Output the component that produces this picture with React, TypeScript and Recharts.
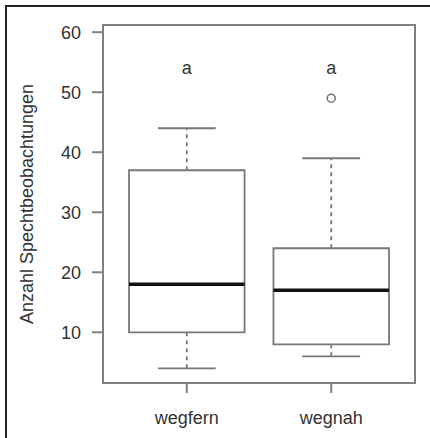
import React from 'react';
import {
  ComposedChart,
  Scatter,
  XAxis,
  YAxis,
  ReferenceArea,
  ReferenceLine,
} from 'recharts';

// groups and boxplot stats
const groups = ['wegfern', 'wegnah'];
const positions = [1, 2];
const mins = [4, 6];
const q1s = [10, 8];
const medians = [18, 17];
const q3s = [37, 24];
const maxs = [44, 39];
const outliers = [{ x: 2, y: 49 }];
const letters = ['a', 'a'];
const letterY = 54;
const yTicks = [10, 20, 30, 40, 50, 60];

const X_DOMAIN: [number, number] = [0.42, 2.58];
const Y_DOMAIN: [number, number] = [1.55, 61.2];
const FONT = '"Liberation Sans", Arial, Helvetica, sans-serif';
const TEXT = '#333';
const GREY = '#808080';

const letterData = positions.map((p, i) => ({ x: p, y: letterY, t: letters[i] }));

const LetterShape = (props: any) => (
  <text
    x={props.cx}
    y={props.cy}
    textAnchor="middle"
    dominantBaseline="central"
    fontSize={18}
    fontFamily={FONT}
    fill={TEXT}
  >
    {props.payload?.t}
  </text>
);

const OutlierShape = (props: any) => (
  <circle cx={props.cx} cy={props.cy} r={4} fill="#fff" stroke="#777" strokeWidth={1.6} />
);

const YTitle = (props: any) => {
  const vb = props.viewBox || {};
  const cy = (vb.y ?? 0) + (vb.height ?? 0) / 2;
  return (
    <text
      x={27}
      y={cy}
      transform={`rotate(-90, 27, ${cy})`}
      textAnchor="middle"
      dominantBaseline="central"
      fontSize={18}
      fontFamily={FONT}
      fill={TEXT}
    >
      Anzahl Spechtbeobachtungen
    </text>
  );
};

export default function App() {
  return (
    <div style={{ position: 'absolute', left: 0, top: 0, width: 430, height: 438, background: '#fff' }}>
      <ComposedChart width={430} height={438} margin={{ top: 25, right: 15, bottom: 0, left: 0 }}>
        <XAxis
          type="number"
          dataKey="x"
          domain={X_DOMAIN}
          allowDataOverflow
          ticks={positions}
          tickFormatter={(v: number) => groups[v - 1] ?? ''}
          height={55}
          axisLine={false}
          tickSize={10}
          tickMargin={18}
          tickLine={{ stroke: GREY, strokeWidth: 2 }}
          tick={{ fontSize: 18, fontFamily: FONT, fill: TEXT }}
        />
        <YAxis
          type="number"
          dataKey="y"
          domain={Y_DOMAIN}
          allowDataOverflow
          ticks={yTicks}
          width={103}
          axisLine={false}
          tickSize={11}
          tickMargin={11}
          tickLine={{ stroke: GREY, strokeWidth: 2 }}
          tick={{ fontSize: 18, fontFamily: FONT, fill: TEXT }}
          label={<YTitle />}
        />

        {/* plot frame */}
        <ReferenceArea
          x1={X_DOMAIN[0]}
          x2={X_DOMAIN[1]}
          y1={Y_DOMAIN[0]}
          y2={Y_DOMAIN[1]}
          fill="none"
          fillOpacity={0}
          stroke={GREY}
          strokeWidth={2}
          strokeOpacity={1}
        />

        {positions.map((p, i) => (
          <ReferenceArea
            key={`box-${i}`}
            x1={p - 0.4}
            x2={p + 0.4}
            y1={q1s[i]}
            y2={q3s[i]}
            fill="none"
            fillOpacity={0}
            stroke="#777"
            strokeWidth={1.8}
            strokeOpacity={1}
          />
        ))}

        {positions.map((p, i) => (
          <ReferenceLine
            key={`wu-${i}`}
            segment={[{ x: p, y: q3s[i] }, { x: p, y: maxs[i] }]}
            stroke="#777"
            strokeWidth={1.8}
            strokeDasharray="4 4"
          />
        ))}
        {positions.map((p, i) => (
          <ReferenceLine
            key={`wl-${i}`}
            segment={[{ x: p, y: mins[i] }, { x: p, y: q1s[i] }]}
            stroke="#777"
            strokeWidth={1.8}
            strokeDasharray="4 4"
          />
        ))}
        {positions.map((p, i) => (
          <ReferenceLine
            key={`cu-${i}`}
            segment={[{ x: p - 0.2, y: maxs[i] }, { x: p + 0.2, y: maxs[i] }]}
            stroke="#777"
            strokeWidth={1.8}
          />
        ))}
        {positions.map((p, i) => (
          <ReferenceLine
            key={`cl-${i}`}
            segment={[{ x: p - 0.2, y: mins[i] }, { x: p + 0.2, y: mins[i] }]}
            stroke="#777"
            strokeWidth={1.8}
          />
        ))}
        {positions.map((p, i) => (
          <ReferenceLine
            key={`med-${i}`}
            segment={[{ x: p - 0.4, y: medians[i] }, { x: p + 0.4, y: medians[i] }]}
            stroke="#111"
            strokeWidth={3.5}
          />
        ))}

        <Scatter data={outliers} shape={<OutlierShape />} isAnimationActive={false} />
        <Scatter data={letterData} shape={<LetterShape />} isAnimationActive={false} />
      </ComposedChart>
      <div
        style={{
          position: 'absolute',
          left: 5,
          top: 5,
          width: 425,
          height: 433,
          borderLeft: '2px solid #222',
          borderTop: '2px solid #222',
          boxSizing: 'border-box',
          pointerEvents: 'none',
        }}
      />
    </div>
  );
}
